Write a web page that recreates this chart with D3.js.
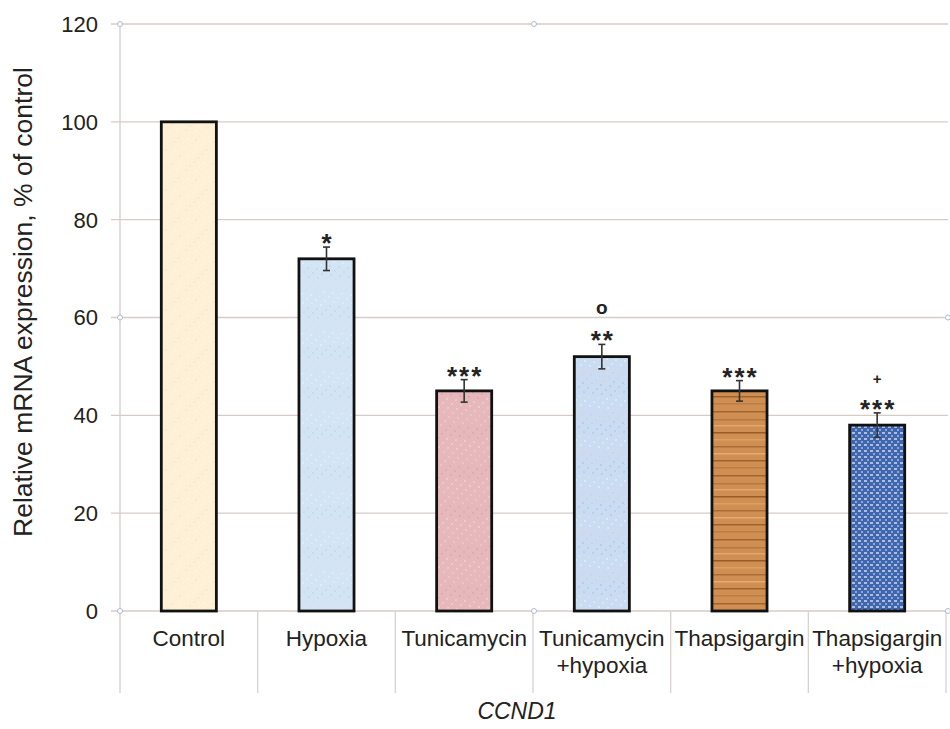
<!DOCTYPE html>
<html>
<head>
<meta charset="utf-8">
<script src="https://cdn.jsdelivr.net/npm/d3@7"></script>
<style>
  body { margin: 0; background: #fff; }
  text { font-family: "Liberation Sans", Arial, sans-serif; fill: #222; }
</style>
</head>
<body>
<div id="chart"></div>
<script>
var categories = ["Control", "Hypoxia", "Tunicamycin", "Tunicamycin\n+hypoxia", "Thapsigargin", "Thapsigargin\n+hypoxia"];
var values = [100, 72, 45, 52, 45, 38];
var errors = [0, 2.4, 2.3, 2.5, 2.1, 2.5];
var stars = ["", "*", "***", "**", "***", "***"];
var marks = ["", "", "", "o", "", "+"];
var yTicks = [0, 20, 40, 60, 80, 100, 120];

var width = 950, height = 729;
var margin = {top: 24, right: 2, bottom: 118, left: 120};

var svg = d3.select("#chart").append("svg")
    .attr("width", width)
    .attr("height", height);

// textures for the bars
var defs = svg.append("defs");

function specklePattern(id, base, dots, n, size) {
    var p = defs.append("pattern").attr("id", id)
        .attr("patternUnits", "userSpaceOnUse")
        .attr("width", size).attr("height", size);
    p.append("rect").attr("width", size).attr("height", size).attr("fill", base);
    for (var i = 0; i < n; i++) {
        // fixed scatter, texture only
        var px = (i * 37 % size), py = (i * 53 % size);
        p.append("rect").attr("x", px).attr("y", py)
            .attr("width", 2).attr("height", 2)
            .attr("fill", dots[i % dots.length]).attr("opacity", 0.6);
    }
}
specklePattern("tx0", "#fdf0d6", ["#fef7e8", "#f7e4c0"], 30, 40);
specklePattern("tx1", "#d3e4f4", ["#e8f1f9", "#bcd5ec", "#e2dbe8"], 40, 40);
specklePattern("tx2", "#e6b8bc", ["#efcdd0", "#d8a2a7", "#f0d4d4"], 40, 40);
specklePattern("tx3", "#c9dcf1", ["#e6c6d6", "#a9c8ea", "#eaf0f8"], 50, 40);

// wood
var wood = defs.append("pattern").attr("id", "tx4")
    .attr("patternUnits", "userSpaceOnUse")
    .attr("width", 56).attr("height", 64);
wood.append("rect").attr("width", 56).attr("height", 64).attr("fill", "#cf8f52");
[[3, "#a4642f"], [11, "#b8773f"], [17, "#e1a86c"], [24, "#9c5a26"], [31, "#dca063"],
 [38, "#ad6c35"], [45, "#e3ad72"], [52, "#a2612c"], [59, "#c07c42"]].forEach(function (s) {
    wood.append("rect").attr("x", 0).attr("y", s[0]).attr("width", 56).attr("height", 1.5).attr("fill", s[1]);
});

// blue woven
var weave = defs.append("pattern").attr("id", "tx5")
    .attr("patternUnits", "userSpaceOnUse")
    .attr("width", 6).attr("height", 6);
weave.append("rect").attr("width", 6).attr("height", 6).attr("fill", "#4066ae");
weave.append("rect").attr("x", 0).attr("y", 0).attr("width", 3).attr("height", 2).attr("fill", "#a9bfe6");
weave.append("rect").attr("x", 3).attr("y", 3).attr("width", 2).attr("height", 2).attr("fill", "#8aa6dc");

var plotW = width - margin.left - margin.right;
var plotH = height - margin.top - margin.bottom;

var g = svg.append("g")
    .attr("transform", "translate(" + margin.left + "," + margin.top + ")");

var x = d3.scaleBand()
    .domain(categories)
    .range([0, plotW - 2])
    .paddingInner(0)
    .paddingOuter(0);

var y = d3.scaleLinear()
    .domain([0, 120])
    .range([plotH, 0]);

var gridColor = "#d7cbc7";

// gridlines
g.selectAll(".grid")
    .data(yTicks)
    .enter()
    .append("line")
    .attr("x1", -9)
    .attr("x2", plotW)
    .attr("y1", d => y(d))
    .attr("y2", d => y(d))
    .attr("stroke", gridColor)
    .attr("stroke-width", 1.3);

// left axis line
g.append("line")
    .attr("x1", 0).attr("x2", 0)
    .attr("y1", 0).attr("y2", plotH + 82)
    .attr("stroke", gridColor).attr("stroke-width", 1.3);

// category separators below the axis
g.selectAll(".sep")
    .data(categories)
    .enter()
    .append("line")
    .attr("x1", d => x(d) + x.bandwidth())
    .attr("x2", d => x(d) + x.bandwidth())
    .attr("y1", plotH)
    .attr("y2", plotH + 82)
    .attr("stroke", "#d8d2d0")
    .attr("stroke-width", 1.3);

// y tick labels
g.selectAll(".ylab")
    .data(yTicks)
    .enter()
    .append("text")
    .attr("x", -22)
    .attr("y", d => y(d))
    .attr("dy", "0.36em")
    .attr("text-anchor", "end")
    .attr("font-size", 22)
    .text(d => d);

var rows = values.map((v, i) => ({cat: categories[i], v: v, e: errors[i], s: stars[i], m: marks[i], i: i}));

// bars
var bw = x.bandwidth() * 0.4;
g.selectAll(".bar")
    .data(rows)
    .enter()
    .append("rect")
    .attr("x", d => x(d.cat) + (x.bandwidth() - bw) / 2)
    .attr("y", d => y(d.v))
    .attr("width", bw)
    .attr("height", d => plotH - y(d.v))
    .attr("fill", d => "url(#tx" + d.i + ")")
    .attr("stroke", "#111")
    .attr("stroke-width", 2.8);

// error bars
g.selectAll(".err")
    .data(rows.filter(d => d.e > 0))
    .enter()
    .append("g")
    .each(function (d) {
        var cx = x(d.cat) + x.bandwidth() / 2;
        var s = d3.select(this);
        s.append("line").attr("x1", cx).attr("x2", cx)
            .attr("y1", y(d.v + d.e)).attr("y2", y(d.v - d.e))
            .attr("stroke", "#333").attr("stroke-width", 1.6);
        [d.v + d.e, d.v - d.e].forEach(function (v) {
            s.append("line").attr("x1", cx - 3.5).attr("x2", cx + 3.5)
                .attr("y1", y(v)).attr("y2", y(v))
                .attr("stroke", "#333").attr("stroke-width", 1.6);
        });
    });

// significance marks
g.selectAll(".star")
    .data(rows.filter(d => d.s))
    .enter()
    .append("text")
    .attr("x", d => x(d.cat) + x.bandwidth() / 2 + 1)
    .attr("y", d => y(d.v + d.e) + 5)
    .attr("text-anchor", "middle")
    .attr("font-size", 26)
    .attr("font-weight", "bold")
    .attr("font-family", "DejaVu Sans, sans-serif")
    .attr("letter-spacing", 2)
    .text(d => d.s);

g.selectAll(".mark")
    .data(rows.filter(d => d.m))
    .enter()
    .append("text")
    .attr("x", d => x(d.cat) + x.bandwidth() / 2)
    .attr("y", d => y(d.v + d.e) - (d.m == "o" ? 30 : 29))
    .attr("text-anchor", "middle")
    .attr("font-size", d => d.m == "o" ? 19 : 15)
    .attr("font-weight", "bold")
    .text(d => d.m);

// category labels
var cl = g.selectAll(".clab")
    .data(categories)
    .enter()
    .append("text")
    .attr("x", d => x(d) + x.bandwidth() / 2)
    .attr("y", plotH + 35)
    .attr("text-anchor", "middle")
    .attr("font-size", 22.5);
cl.selectAll("tspan")
    .data(d => d.split("\n"))
    .enter()
    .append("tspan")
    .attr("x", function () { return d3.select(this.parentNode).attr("x"); })
    .attr("dy", (d, i) => i == 0 ? 0 : 27)
    .text(d => d);

// selection handle dots (as in the source image)
var handles = [[0, 120], [0.5, 120], [0, 60], [1, 60], [0, 0], [0.5, 0], [1, 0]];
g.selectAll(".handle")
    .data(handles)
    .enter()
    .append("circle")
    .attr("cx", d => d[0] * plotW)
    .attr("cy", d => y(d[1]))
    .attr("r", 2.5)
    .attr("fill", "#fff")
    .attr("stroke", "#a9bccf")
    .attr("stroke-width", 1);

// axis titles
svg.append("text")
    .attr("transform", "translate(32,302) rotate(-90)")
    .attr("text-anchor", "middle")
    .attr("font-size", 26.5)
    .text("Relative mRNA expression, % of control");

svg.append("text")
    .attr("x", 517)
    .attr("y", 719)
    .attr("text-anchor", "middle")
    .attr("font-size", 23)
    .attr("font-style", "italic")
    .text("CCND1");
</script>
</body>
</html>
